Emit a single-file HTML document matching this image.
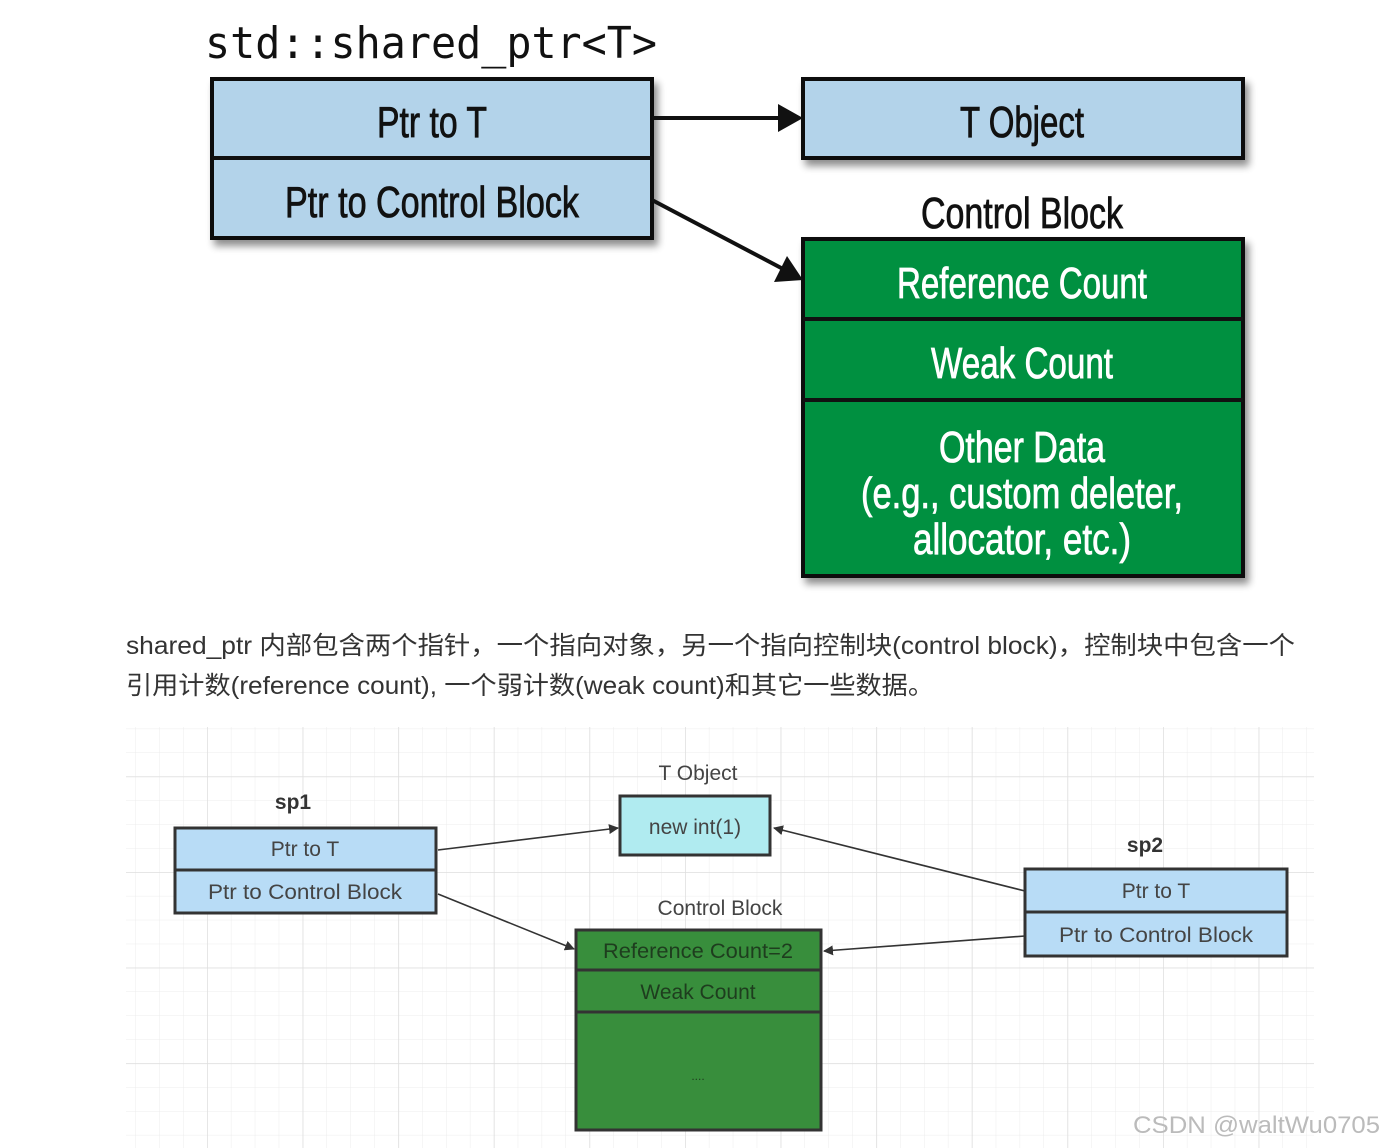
<!DOCTYPE html>
<html><head><meta charset="utf-8"><style>
html,body{margin:0;padding:0;background:#fff;}
body{width:1384px;height:1148px;overflow:hidden;position:relative;}
</style></head><body>
<svg width="1384" height="1148" viewBox="0 0 1384 1148" xmlns="http://www.w3.org/2000/svg" style="position:absolute;left:0;top:0">
<defs>
<filter id="sh" x="-10%" y="-10%" width="130%" height="140%"><feGaussianBlur in="SourceAlpha" stdDeviation="4"/><feOffset dx="4" dy="6"/><feComponentTransfer><feFuncA type="linear" slope="0.45"/></feComponentTransfer><feMerge><feMergeNode/><feMergeNode in="SourceGraphic"/></feMerge></filter>
<pattern id="gmin" x="207" y="776.4" width="23.9" height="23.9" patternUnits="userSpaceOnUse"><path d="M0 0H23.9M0 0V23.9" stroke="#ececec" stroke-width="1" fill="none"/></pattern>
<pattern id="gmaj" x="207" y="776.4" width="95.6" height="95.6" patternUnits="userSpaceOnUse"><path d="M0 0H95.6M0 0V95.6" stroke="#dedede" stroke-width="1.5" fill="none"/></pattern>
<marker id="ab" markerWidth="10" markerHeight="10" refX="9" refY="5" orient="auto" markerUnits="userSpaceOnUse"><path d="M0 0L10 5L0 10z" fill="#333"/></marker>
</defs>

<text x="205" y="58" font-family="'DejaVu Sans Mono','Liberation Mono',monospace" font-size="44" textLength="452" lengthAdjust="spacingAndGlyphs" fill="#111">std::shared_ptr&lt;T&gt;</text>
<g filter="url(#sh)">
<rect x="212" y="79" width="440" height="159" fill="#b3d3ea" stroke="#111" stroke-width="4"/>
<rect x="803" y="79" width="440" height="79" fill="#b3d3ea" stroke="#111" stroke-width="4"/>
<rect x="803" y="239" width="440" height="337" fill="#009040" stroke="#111" stroke-width="4"/>
</g>
<line x1="212" y1="158" x2="652" y2="158" stroke="#111" stroke-width="4"/>
<line x1="803" y1="319" x2="1243" y2="319" stroke="#111" stroke-width="4"/>
<line x1="803" y1="400" x2="1243" y2="400" stroke="#111" stroke-width="4"/>
<g font-family="'Liberation Sans',sans-serif" font-size="44" text-anchor="middle" fill="#111" stroke="#111" stroke-width="0.8">
<text x="432" y="137" textLength="110" lengthAdjust="spacingAndGlyphs">Ptr to T</text>
<text x="432" y="217" textLength="294" lengthAdjust="spacingAndGlyphs">Ptr to Control Block</text>
<text x="1022" y="137" textLength="124" lengthAdjust="spacingAndGlyphs">T Object</text>
<text x="1022" y="228" textLength="202" lengthAdjust="spacingAndGlyphs">Control Block</text>
<g fill="#fff" stroke="#fff">
<text x="1022" y="298" textLength="250" lengthAdjust="spacingAndGlyphs">Reference Count</text>
<text x="1022" y="378" textLength="182" lengthAdjust="spacingAndGlyphs">Weak Count</text>
<text x="1022" y="462" textLength="166" lengthAdjust="spacingAndGlyphs">Other Data</text>
<text x="1022" y="508" textLength="322" lengthAdjust="spacingAndGlyphs">(e.g., custom deleter,</text>
<text x="1022" y="554" textLength="218" lengthAdjust="spacingAndGlyphs">allocator, etc.)</text>
</g></g>
<line x1="652" y1="118" x2="782" y2="118" stroke="#111" stroke-width="4"/>
<path d="M803 118L778 104L778 132z" fill="#111"/>
<line x1="652" y1="200" x2="785" y2="270" stroke="#111" stroke-width="4"/>
<path d="M803 280L774 282L787 256z" fill="#111"/>

<g font-family="'Liberation Sans','Noto Sans CJK SC',sans-serif" font-size="25" fill="#333">
<text x="126" y="654" textLength="1169" lengthAdjust="spacingAndGlyphs">shared_ptr 内部包含两个指针，一个指向对象，另一个指向控制块(control block)，控制块中包含一个</text>
<text x="126" y="694" textLength="808" lengthAdjust="spacingAndGlyphs">引用计数(reference count), 一个弱计数(weak count)和其它一些数据。</text>
</g>

<rect x="126" y="727" width="1188" height="421" fill="url(#gmin)"/>
<rect x="126" y="727" width="1188" height="421" fill="url(#gmaj)"/>

<g font-family="'Liberation Sans',sans-serif" font-size="21" text-anchor="middle" fill="#444">
<text x="293" y="809" font-weight="bold" fill="#333">sp1</text>
<text x="1145" y="852" font-weight="bold" fill="#333">sp2</text>
<text x="698" y="780">T Object</text>
<text x="720" y="915">Control Block</text>
</g>
<g stroke="#333" stroke-width="3">
<rect x="175" y="828" width="261" height="85" fill="#b8dcf6"/>
<line x1="175" y1="870" x2="436" y2="870"/>
<rect x="620" y="796" width="150" height="59" fill="#b0ebf0"/>
<rect x="1025" y="869" width="262" height="87" fill="#b8dcf6"/>
<line x1="1025" y1="912" x2="1287" y2="912"/>
<rect x="576" y="930" width="245" height="200" fill="#388e3c"/>
<line x1="576" y1="970" x2="821" y2="970"/>
<line x1="576" y1="1012" x2="821" y2="1012"/>
</g>
<g font-family="'Liberation Sans',sans-serif" font-size="21" text-anchor="middle" fill="#444">
<text x="305" y="856">Ptr to T</text>
<text x="305" y="899" textLength="194" lengthAdjust="spacingAndGlyphs">Ptr to Control Block</text>
<text x="1156" y="898">Ptr to T</text>
<text x="1156" y="942" textLength="194" lengthAdjust="spacingAndGlyphs">Ptr to Control Block</text>
<text x="695" y="834">new int(1)</text>
<g fill="#1e3d1e"><text x="698" y="958" textLength="190" lengthAdjust="spacingAndGlyphs">Reference Count=2</text>
<text x="698" y="999">Weak Count</text>
<text x="698" y="1080" font-size="12">....</text></g>
</g>
<g stroke="#333" stroke-width="1.6" marker-end="url(#ab)">
<line x1="438" y1="850" x2="618" y2="828"/>
<line x1="438" y1="894" x2="574" y2="949"/>
<line x1="1025" y1="891" x2="774" y2="828"/>
<line x1="1025" y1="936" x2="824" y2="951"/>
</g>
<text x="1380" y="1133" text-anchor="end" font-family="'Liberation Sans',sans-serif" font-size="24" textLength="247" lengthAdjust="spacingAndGlyphs" fill="#bbbbbb">CSDN @waltWu0705</text>
</svg>
</body></html>
